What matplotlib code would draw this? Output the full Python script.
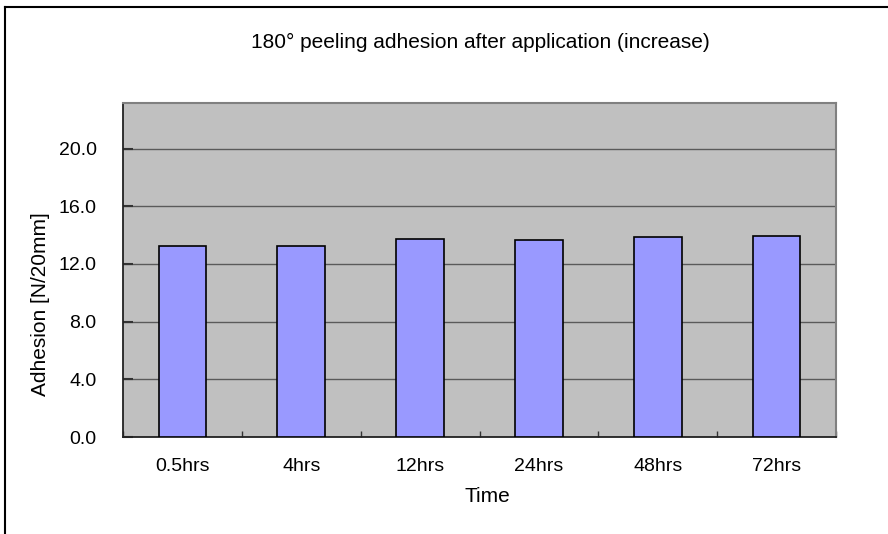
import numpy as np
import matplotlib.pyplot as plt
from matplotlib.lines import Line2D

plt.rcParams['font.family'] = ['Liberation Sans', 'DejaVu Sans']

# data
times = ["0.5hrs", "4hrs", "12hrs", "24hrs", "48hrs", "72hrs"]
adhesion = [13.22, 13.22, 13.71, 13.68, 13.85, 13.94]
yticks = [0.0, 4.0, 8.0, 12.0, 16.0, 20.0]

fig = plt.figure(figsize=(8.88, 5.34), dpi=100)
ax = fig.add_axes([123/888, 1-437/534, (836-123)/888, (437-103)/534])

x = np.arange(len(times))
ax.set_facecolor("#C0C0C0")
ax.set_axisbelow(True)
ax.yaxis.grid(True, color="#5a5a5a", lw=1.0)
ax.bar(x, adhesion, width=0.4, color="#9999FF", edgecolor="black", lw=1.2, zorder=3)

ax.set_xlim(-0.5, len(times)-0.5)
ax.set_ylim(0, 23.16)
ax.set_yticks(yticks)
ax.set_yticklabels(["%.1f" % v for v in yticks], fontsize=14)
ax.set_xticks(x)
ax.set_xticklabels(times, fontsize=14)
ax.set_xticks(np.arange(-0.5, len(times)), minor=True)
ax.tick_params(axis="x", which="major", length=0, pad=15)
ax.tick_params(axis="x", which="minor", direction="in", length=4, width=1, color="#333333")
ax.tick_params(axis="y", direction="in", length=7, width=1.5, color="#333333", pad=19)

for s in ["top", "right"]:
    ax.spines[s].set_color("#808080")
    ax.spines[s].set_linewidth(1.5)
for s in ["left", "bottom"]:
    ax.spines[s].set_color("#222222")
    ax.spines[s].set_linewidth(1.3)

fig.text(480/888, 1-42/534, "180° peeling adhesion after application (increase)",
         ha="center", va="center", fontsize=15)
fig.text(41/888, 1-304/534, "Adhesion [N/20mm]", rotation=90,
         ha="center", va="center", fontsize=15)
fig.text(487/888, 1-496/534, "Time", ha="center", va="center", fontsize=15)

# outer chart frame (partly cut off in the original)
fig.add_artist(Line2D([4.5/888, 4.5/888], [0, 1-7/534], color="black", lw=1.5))
fig.add_artist(Line2D([4.5/888, 1], [1-7/534, 1-7/534], color="black", lw=1.5))

fig.savefig("out.png", dpi=100)
